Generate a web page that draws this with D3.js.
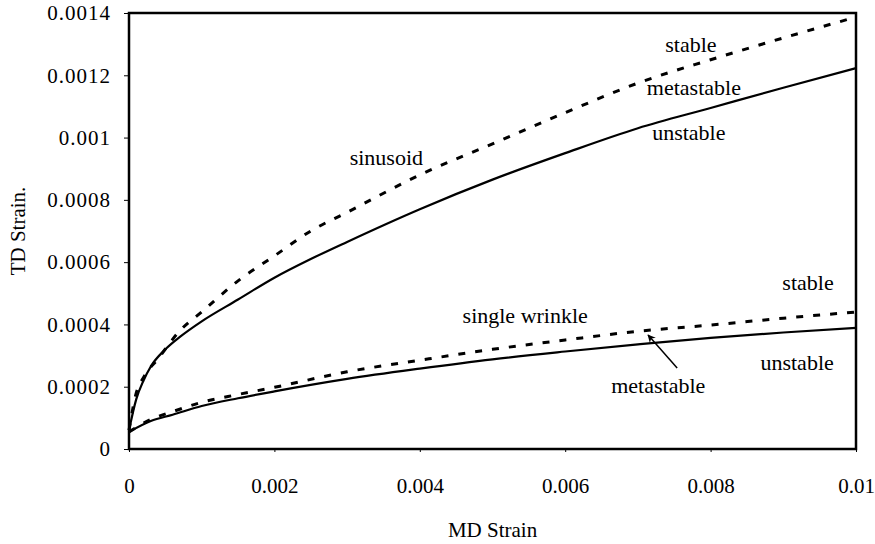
<!DOCTYPE html>
<html>
<head>
<meta charset="utf-8">
<script src="https://cdn.jsdelivr.net/npm/d3@7"></script>
<style>
  body { margin: 0; background: #fff; }
  svg text { font-family: "Liberation Serif", "Times New Roman", Tinos, Times, "Noto Serif", "DejaVu Serif", FreeSerif, serif; fill: #000; }
</style>
</head>
<body>
<div id="chart"></div>
<script>
// MD strain sample points (x) and TD strain for each boundary curve
const sinusoidX        = [0, 0.0001, 0.0002, 0.0003, 0.0005, 0.0007, 0.001, 0.0015, 0.002, 0.0025, 0.003, 0.004, 0.005, 0.006, 0.007, 0.008, 0.009, 0.01];
const sinusoidUnstable = [0.00006, 0.00016, 0.00022, 0.000265, 0.00032, 0.00036, 0.00041, 0.00048, 0.00055, 0.00061, 0.000665, 0.00077, 0.000865, 0.00095, 0.00103, 0.001095, 0.00116, 0.001223];
const sinusoidStableX  = [0, 0.0001, 0.0002, 0.0004, 0.0007, 0.001, 0.0015, 0.002, 0.0025, 0.003, 0.004, 0.005, 0.006, 0.007, 0.008, 0.009, 0.01];
const sinusoidStable   = [0.00006, 0.00018, 0.00023, 0.00029, 0.00038, 0.00044, 0.00054, 0.00062, 0.0007, 0.00076, 0.00088, 0.00098, 0.00108, 0.001175, 0.00125, 0.00132, 0.001387];

const wrinkleX         = [0, 0.0003, 0.0006, 0.001, 0.0015, 0.002, 0.003, 0.004, 0.005, 0.006, 0.007, 0.008, 0.009, 0.01];
const wrinkleUnstable  = [0.000055, 0.00009, 0.00011, 0.000138, 0.000163, 0.000185, 0.000225, 0.000258, 0.000288, 0.000313, 0.000336, 0.000357, 0.000374, 0.000389];
const wrinkleStable    = [0.000055, 0.000095, 0.00012, 0.00015, 0.000175, 0.000198, 0.000248, 0.000285, 0.00032, 0.00035, 0.000378, 0.000398, 0.00042, 0.00044];

const xTicks = [0, 0.002, 0.004, 0.006, 0.008, 0.01];
const yTicks = [0, 0.0002, 0.0004, 0.0006, 0.0008, 0.001, 0.0012, 0.0014];

// region labels: [text, x, y]
const labels = [
  ["stable", 0.00773, 0.001275],
  ["metastable", 0.00777, 0.001137],
  ["unstable", 0.0077, 0.000992],
  ["sinusoid", 0.00354, 0.000912],
  ["single wrinkle", 0.00545, 0.000405],
  ["stable", 0.00934, 0.00051],
  ["unstable", 0.00919, 0.000254],
  ["metastable", 0.00728, 0.00018]
];
// arrow from the lower "metastable" label to the gap between the curves
const arrowFrom = [0.00754, 0.00026];
const arrowTo   = [0.00714, 0.000366];

const width = 875, height = 544;
const margin = {top: 13, right: 19, bottom: 95, left: 129};
const innerW = width - margin.left - margin.right;
const innerH = height - margin.top - margin.bottom;

const svg = d3.select("#chart").append("svg")
  .attr("width", width)
  .attr("height", height);

svg.append("defs").append("marker")
  .attr("id", "head")
  .attr("viewBox", "0 0 10 10")
  .attr("refX", 9).attr("refY", 5)
  .attr("markerWidth", 8).attr("markerHeight", 8)
  .attr("markerUnits", "userSpaceOnUse")
  .attr("orient", "auto")
  .append("path")
  .attr("d", "M0,0 L10,5 L0,10 L3,5 Z")
  .attr("fill", "#000");

const g = svg.append("g")
  .attr("transform", `translate(${margin.left},${margin.top})`);

const x = d3.scaleLinear().domain([0, 0.01]).range([0, innerW]);
const y = d3.scaleLinear().domain([0, 0.0014]).range([innerH, 0]);

const fmt = d => d === 0 ? "0" : String(+d.toFixed(5));

// axes
const xAxis = g.append("g")
  .attr("transform", `translate(0,${innerH})`)
  .call(d3.axisBottom(x).tickValues(xTicks).tickSize(3).tickPadding(26).tickFormat(fmt));
const yAxis = g.append("g")
  .call(d3.axisLeft(y).tickValues(yTicks).tickSize(5).tickPadding(13).tickFormat(fmt));

[xAxis, yAxis].forEach(ax => {
  ax.attr("font-family", null);
  ax.select(".domain").remove();
  ax.selectAll(".tick line").attr("stroke", "#000").attr("stroke-width", 1);
  ax.selectAll(".tick text")
    .style("font-size", "21px")
    .attr("fill", "#000");
});
yAxis.selectAll(".tick text").style("letter-spacing", "1px");

// frame
g.append("rect")
  .attr("x", 0).attr("y", 0)
  .attr("width", innerW).attr("height", innerH)
  .attr("fill", "none")
  .attr("stroke", "#000")
  .attr("stroke-width", 2.5);

const line = d3.line()
  .x(d => x(d[0]))
  .y(d => y(d[1]))
  .curve(d3.curveMonotoneX);

const series = [
  {xs: sinusoidX, ys: sinusoidUnstable, dashed: false},
  {xs: sinusoidStableX, ys: sinusoidStable, dashed: true},
  {xs: wrinkleX, ys: wrinkleUnstable, dashed: false},
  {xs: wrinkleX, ys: wrinkleStable, dashed: true}
];

g.selectAll("path.curve")
  .data(series)
  .enter()
  .append("path")
  .attr("class", "curve")
  .attr("d", s => line(s.xs.map((v, i) => [v, s.ys[i]])))
  .attr("fill", "none")
  .attr("stroke", "#000")
  .attr("stroke-width", s => s.dashed ? 3 : 2.2)
  .attr("stroke-dasharray", s => s.dashed ? "7,10" : null);

// region labels
g.selectAll("text.lbl")
  .data(labels)
  .enter()
  .append("text")
  .attr("class", "lbl")
  .attr("x", d => x(d[1]))
  .attr("y", d => y(d[2]))
  .attr("text-anchor", "middle")
  .style("font-size", "22px")
  .text(d => d[0]);

g.append("line")
  .attr("x1", x(arrowFrom[0])).attr("y1", y(arrowFrom[1]))
  .attr("x2", x(arrowTo[0])).attr("y2", y(arrowTo[1]))
  .attr("stroke", "#000")
  .attr("stroke-width", 1.5)
  .attr("marker-end", "url(#head)");

// axis titles
svg.append("text")
  .attr("x", margin.left + innerW / 2)
  .attr("y", 537)
  .attr("text-anchor", "middle")
  .style("font-size", "21px")
  .text("MD Strain");

svg.append("text")
  .attr("transform", `translate(25,${margin.top + innerH / 2}) rotate(-90)`)
  .attr("text-anchor", "middle")
  .style("font-size", "21px")
  .text("TD Strain.");
</script>
</body>
</html>
